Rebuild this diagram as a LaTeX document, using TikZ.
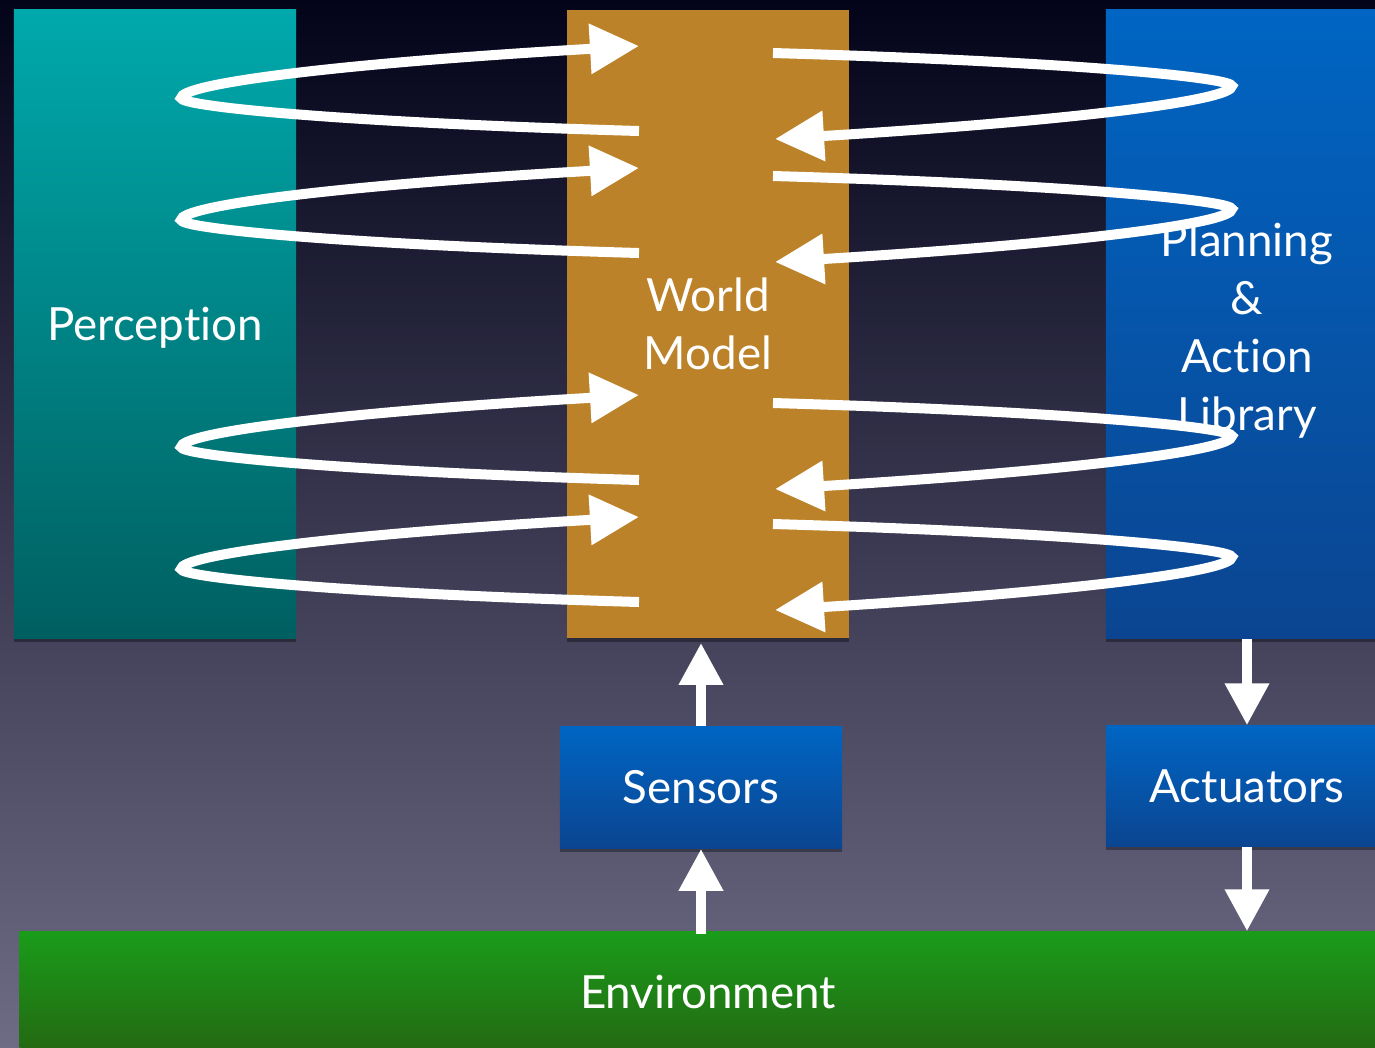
\documentclass[tikz,border=0pt]{standalone}
\usepackage{fontspec}
\setmainfont{Lato}[Ligatures=NoCommon]
\usetikzlibrary{arrows.meta,shadows}
\definecolor{bgtop}{HTML}{03031A}
\definecolor{bgmid}{HTML}{2F2D4B}
\definecolor{bgbot}{HTML}{6E6C85}
\definecolor{perTop}{HTML}{00A9AC}
\definecolor{perBot}{HTML}{005F60}
\definecolor{wmcol}{HTML}{BC8229}
\definecolor{blTop}{HTML}{0065C3}
\definecolor{blBot}{HTML}{0B4591}
\definecolor{envTop}{HTML}{1A9C1A}
\definecolor{envBot}{HTML}{246812}
\begin{document}
\begin{tikzpicture}[x=0.01cm,y=-0.01cm,
  labeltext/.style={text=white, align=center, inner sep=0pt, font=\fontsize{13pt}{16.5pt}\selectfont},
  boxbase/.style={draw=none, labeltext,
    drop shadow={fill=black, opacity=0.35, shadow xshift=0pt, shadow yshift=-1.2pt}},
  tallbox/.style={boxbase, minimum width=2.82cm, minimum height=6.28cm},
  smallbox/.style={boxbase, minimum width=2.82cm, minimum height=1.2cm},
  blueshade/.style={top color=blTop, bottom color=blBot},
  loop/.style={draw=white, line width=0.1cm, -{Triangle[length=0.49cm,width=0.48cm]}},
  vert/.style={draw=white, line width=0.1cm, -{Triangle[length=0.42cm,width=0.42cm]}}
]
\useasboundingbox (0,0) rectangle (1375,1047);
\clip (0,0) rectangle (1375,1047);
\shade[top color=bgtop, middle color=bgmid, bottom color=bgbot] (0,0) rectangle (1375,1047);

% boxes
\node[tallbox, top color=perTop, bottom color=perBot] (per) at (155,324) {};
\node[labeltext] (pertext) at (155,328) {Perception};
\node[tallbox, fill=wmcol] (wm) at (708,324) {World\\Model};
\node[tallbox, blueshade] (plan) at (1247,324) {};
\node[labeltext] (plantext) at (1247,331) {Planning\\\&\\Action\\Library};
\node[smallbox, blueshade, minimum height=1.21cm] (sens) at (701,787.5) {Sensors};
\node[smallbox, blueshade] (act) at (1247,786) {Actuators};
\node[smallbox, top color=envTop, bottom color=envBot, minimum width=13.76cm] (env) at (708,992) {Environment};

% left loops (Perception side)
\foreach \t in {131,253,480,602}{
  \coordinate (lt) at (639,\t);
  \coordinate (lh) at (639,\t-85);
  \path[loop] (lt) .. controls (330,\t-9) and (181,\t-25) .. (181,\t-33)
    .. controls (181,\t-47) and (330,\t-67) .. (lh);
}
% right loops (Planning side)
\foreach \s in {53,176,403,524}{
  \coordinate (rt) at (773,\s);
  \coordinate (rh) at (775,\s+86);
  \path[loop] (rt) .. controls (1082,\s+9) and (1232,\s+25) .. (1232,\s+33)
    .. controls (1232,\s+47) and (1082,\s+67) .. (rh);
}

% vertical arrows
\path[vert, shorten >=0.04cm] (sens.north) -- (sens.north |- wm.south);
\path[vert] ([yshift=-0.03cm]sens.south |- env.north) -- (sens.south);
\path[vert] (plan.south) -- (act.north);
\path[vert] (act.south) -- (act.south |- env.north);
\end{tikzpicture}
\end{document}
